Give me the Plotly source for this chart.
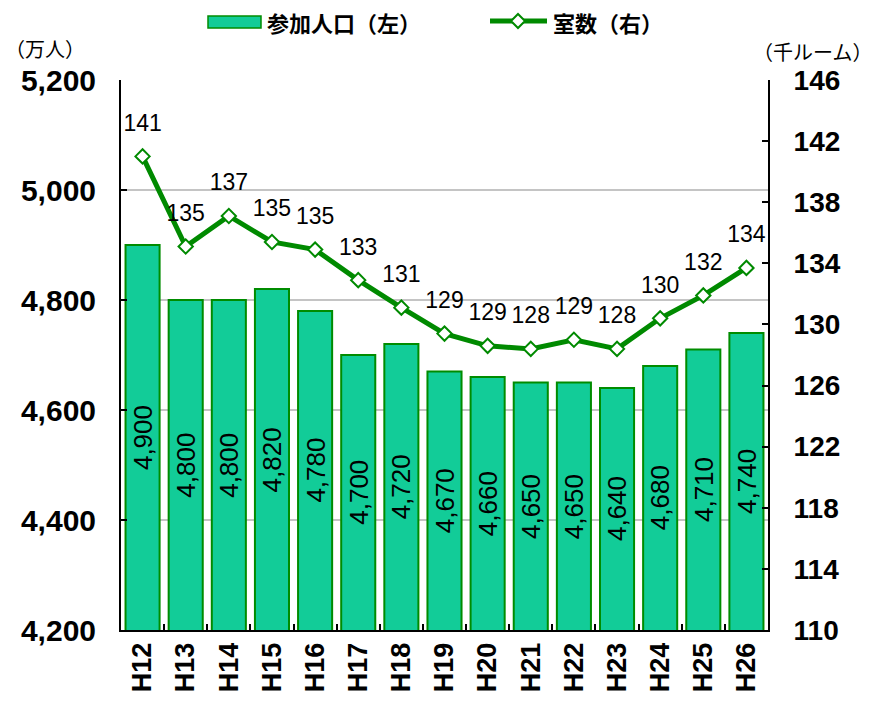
import plotly.graph_objects as go

categories = ["H12", "H13", "H14", "H15", "H16", "H17", "H18", "H19",
              "H20", "H21", "H22", "H23", "H24", "H25", "H26"]
population = [4900, 4800, 4800, 4820, 4780, 4700, 4720, 4670,
              4660, 4650, 4650, 4640, 4680, 4710, 4740]
rooms = [141.0, 135.1, 137.1, 135.4, 134.9, 132.9, 131.1, 129.4,
         128.6, 128.4, 129.0, 128.4, 130.4, 131.9, 133.7]

left_ticks = [4200, 4400, 4600, 4800, 5000, 5200]
right_ticks = [110, 114, 118, 122, 126, 130, 134, 138, 142, 146]

BAR_FILL = "#12CC98"
BAR_EDGE = "#008C00"
LINE_COL = "#008A00"
NUM_FONT = "Liberation Sans"
JP_FONT = "Noto Sans CJK JP"
AXIS_MIN = left_ticks[0]

fig = go.Figure()

fig.add_trace(go.Bar(
    x=categories, y=population, name="参加人口（左）",
    marker=dict(color=BAR_FILL, line=dict(color=BAR_EDGE, width=2)),
    showlegend=False,
))

# value labels inside the bars (rotated), centred in each bar
for cat, val in zip(categories, population):
    fig.add_annotation(x=cat, y=(AXIS_MIN + val) / 2, xref="x", yref="y",
                       text=f"{val:,}", textangle=-90, showarrow=False,
                       font=dict(family=NUM_FONT, size=26, color="black"))

fig.add_trace(go.Scatter(
    x=categories, y=rooms, name="室数（右）", mode="lines+markers",
    line=dict(color=LINE_COL, width=5),
    marker=dict(symbol="diamond", size=11, color="white",
                line=dict(color=LINE_COL, width=2)),
    showlegend=False, yaxis="y2",
))

# labels for the line, offset through an invisible marker size
fig.add_trace(go.Scatter(
    x=categories, y=rooms, mode="markers+text",
    text=[f"{v:.0f}" for v in rooms], textposition="top center",
    textfont=dict(family=NUM_FONT, size=23, color="black"),
    showlegend=False, yaxis="y2", hoverinfo="skip",
    marker=dict(size=30, opacity=0),
))

fig.update_layout(
    width=891, height=706,
    margin=dict(l=121, r=123, t=80, b=76, autoexpand=False),
    paper_bgcolor="white", plot_bgcolor="white",
    bargap=0.21,
    xaxis=dict(
        type="category", range=[-0.5, len(categories) - 0.5],
        showline=True, linecolor="black", linewidth=2,
        ticks="inside", ticklen=6, tickwidth=2, tickcolor="black",
        tickson="boundaries", tickangle=-90, showgrid=False, automargin=False,
        tickfont=dict(family=NUM_FONT, size=27, color="black", weight="bold"),
        ticklabelstandoff=0,
    ),
    yaxis=dict(
        range=[4200, 5200], tickvals=left_ticks, tickformat=",",
        showline=True, linecolor="black", linewidth=2, automargin=False,
        ticks="inside", ticklen=6, tickwidth=2, tickcolor="black",
        showgrid=True, gridcolor="#c4c4c4", gridwidth=1.5, zeroline=False,
        tickfont=dict(family=NUM_FONT, size=30, color="black", weight="bold"),
        ticklabelstandoff=17,
    ),
    yaxis2=dict(
        range=[110, 146], tickvals=right_ticks, overlaying="y", side="right",
        showline=True, linecolor="black", linewidth=2, automargin=False,
        ticks="inside", ticklen=6, tickwidth=2, tickcolor="black",
        showgrid=False, zeroline=False,
        tickfont=dict(family=NUM_FONT, size=28, color="black", weight="bold"),
        ticklabelstandoff=18,
    ),
)

# Manual legend
fig.add_shape(type="rect", xref="paper", yref="paper",
              x0=(208 - 121) / 647, x1=(261 - 121) / 647,
              y0=(630 - 28) / 550, y1=(630 - 16) / 550,
              fillcolor=BAR_FILL, line=dict(color=BAR_EDGE, width=1.5))
fig.add_annotation(xref="paper", yref="paper", x=(265 - 121) / 647, y=(630 - 22) / 550,
                   xanchor="left", yanchor="middle", showarrow=False,
                   text="<b>参加人口（左）</b>",
                   font=dict(family=JP_FONT, size=22, color="black"))
fig.add_shape(type="line", xref="paper", yref="paper",
              x0=(490 - 121) / 647, x1=(547 - 121) / 647,
              y0=(630 - 21) / 550, y1=(630 - 21) / 550,
              line=dict(color=LINE_COL, width=5))
fig.add_shape(type="path", xref="paper", yref="paper",
              path=("M {a},{c} L {b},{d} L {e},{c} L {b},{f} Z").format(
                  a=(511 - 121) / 647, b=(518 - 121) / 647, e=(525 - 121) / 647,
                  c=(630 - 21) / 550, d=(630 - 28) / 550, f=(630 - 14) / 550),
              fillcolor="white", line=dict(color=LINE_COL, width=2))
fig.add_annotation(xref="paper", yref="paper", x=(551 - 121) / 647, y=(630 - 22) / 550,
                   xanchor="left", yanchor="middle", showarrow=False,
                   text="<b>室数（右）</b>",
                   font=dict(family=JP_FONT, size=22, color="black"))

# axis unit titles
fig.add_annotation(xref="paper", yref="paper", x=(3 - 121) / 647, y=(630 - 49) / 550,
                   xanchor="left", yanchor="middle", showarrow=False,
                   text="（万人）", font=dict(family=JP_FONT, size=20, color="black"))
fig.add_annotation(xref="paper", yref="paper", x=(752 - 121) / 647, y=(630 - 52) / 550,
                   xanchor="left", yanchor="middle", showarrow=False, borderpad=0,
                   text="（千ルーム）", font=dict(family=JP_FONT, size=20, color="black"))

fig.write_html("out.html", config={"displayModeBar": False},
               post_script="document.body.style.margin='0';document.body.style.overflow='hidden';")
